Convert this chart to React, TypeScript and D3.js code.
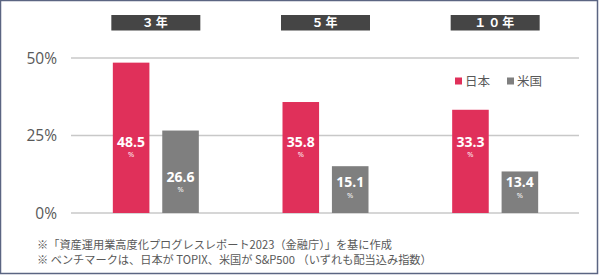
import React from "react";
import * as d3 from "d3";

const periods = ["３年", "５年", "１０年"];
const seriesNames = ["日本", "米国"];
const japanValues = [48.5, 35.8, 33.3];
const usValues = [26.6, 15.1, 13.4];
const yTicks = [0, 25, 50];
const footnotes = [
  "※「資産運用業高度化プログレスレポート2023（金融庁）」を基に作成",
  "※ ベンチマークは、日本が TOPIX、米国が S&P500 （いずれも配当込み指数）",
];

const W = 600;
const H = 275;
const colors = ["#E0305A", "#7F7F7F"];
const font = "'Noto Sans CJK JP', 'Noto Sans', sans-serif";

export default function App() {
  const x = d3.scaleBand<string>().domain(periods).range([71, 580]).paddingInner(0).paddingOuter(0);
  const inner = d3.scaleBand<string>().domain(seriesNames).range([0, 86]).paddingInner(0.26);
  const y = d3.scaleLinear().domain([0, 50]).range([213, 58]);
  const data = [japanValues, usValues];
  const labelY = [(v: number) => y(23), (v: number) => Math.min(y(v) + 46, y(10))];

  return (
    <svg width={W} height={H} style={{ position: "absolute", left: 0, top: 0, background: "#fff" }} fontFamily={font}>
      <rect x={0.5} y={0.5} width={597} height={273} fill="#fff" stroke="#5B6582" strokeWidth={1.5} />
      {yTicks.map((t) => (
        <g key={t}>
          <line x1={71} x2={579} y1={y(t)} y2={y(t)} stroke="#C8C8C8" strokeWidth={1.5} />
          <text x={57} y={y(t)} dy="0.36em" textAnchor="end" fontSize={15.5} fill="#595959" fontFamily="'Open Sans', sans-serif">
            {t}%
          </text>
        </g>
      ))}
      {periods.map((p, i) => {
        const gx = x(p)! + x.bandwidth() / 2 - 43;
        return (
          <g key={p}>
            <rect x={gx - 1.5} y={15} width={89} height={15.5} fill="#454545" />
            <text x={gx + 43} y={23} dy="0.36em" textAnchor="middle" fontSize={12} fontWeight="bold" fill="#fff" letterSpacing={2}>
              {p}
            </text>
            {seriesNames.map((s, j) => {
              const v = data[j][i];
              const bx = gx + inner(s)!;
              const ly = labelY[j](v);
              return (
                <g key={s}>
                  <rect x={bx} y={y(v)} width={inner.bandwidth()} height={y(0) - y(v)} fill={colors[j]} />
                  <text x={bx + inner.bandwidth() / 2} y={ly} dy="0.36em" textAnchor="middle" fontSize={14} fontWeight="bold" fill="#fff" fontFamily="'Open Sans', sans-serif">
                    {v.toFixed(1)}
                  </text>
                  <text x={bx + inner.bandwidth() / 2} y={ly + 13} dy="0.36em" textAnchor="middle" fontSize={7.5} fill="#fff" fontFamily="'Open Sans', sans-serif">
                    %
                  </text>
                </g>
              );
            })}
          </g>
        );
      })}
      {seriesNames.map((s, j) => (
        <g key={s} transform={`translate(${455 + j * 52},81)`}>
          <rect x={0} y={-3.5} width={7} height={7} fill={colors[j]} />
          <text x={10} y={0} dy="0.36em" fontSize={12.5} fill="#595959">
            {s}
          </text>
        </g>
      ))}
      {footnotes.map((f, i) => (
        <text key={i} x={37} y={245 + i * 15} dy="0.36em" fontSize={11.2} fill="#595959">
          {f}
        </text>
      ))}
    </svg>
  );
}
